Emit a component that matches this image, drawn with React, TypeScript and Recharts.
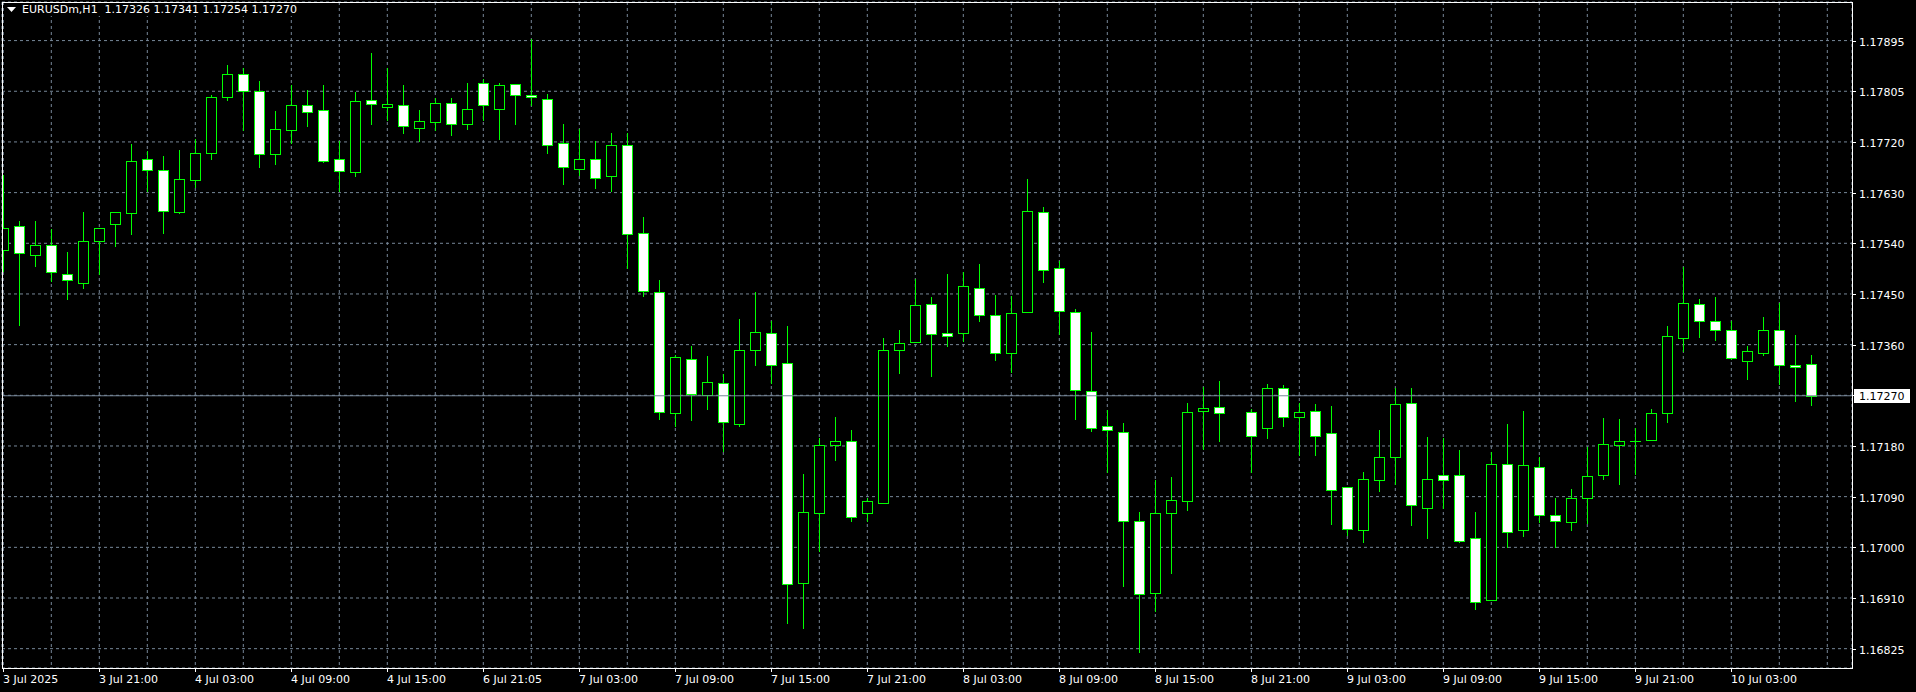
import { ComposedChart, Bar, XAxis, YAxis, CartesianGrid, ReferenceLine } from "recharts";

// EURUSDm H1, 3 Jul 15:00 .. 10 Jul 08:00
const opens = [
  1.17527, 1.17568, 1.17517, 1.17536, 1.17485, 1.17469, 1.17542, 1.17572, 1.17591, 1.17686,
  1.17668, 1.17593, 1.17649, 1.17697, 1.17796, 1.17836, 1.17806, 1.17695, 1.17737, 1.17781,
  1.17772, 1.17687, 1.17663, 1.1779, 1.17779, 1.17781, 1.17741, 1.17751, 1.17786, 1.17749,
  1.1782, 1.17774, 1.17818, 1.178, 1.17793, 1.17714, 1.17669, 1.17687, 1.17656, 1.17711,
  1.17557, 1.17452, 1.1724, 1.17334, 1.17271, 1.17293, 1.17221, 1.17351, 1.17381, 1.17327,
  1.1694, 1.17063, 1.17184, 1.17191, 1.17064, 1.17082, 1.1735, 1.17364, 1.17431, 1.17381,
  1.17381, 1.1746, 1.17412, 1.17346, 1.17417, 1.17593, 1.17494, 1.17418, 1.17278, 1.17216,
  1.17207, 1.17049, 1.16923, 1.17064, 1.17084, 1.17244, 1.17251, 1.1727, 1.17241, 1.17214,
  1.17284, 1.17232, 1.17244, 1.17204, 1.17109, 1.17033, 1.17121, 1.17163, 1.17258, 1.17073,
  1.1713, 1.1713, 1.1702, 1.16911, 1.1715, 1.17033, 1.17144, 1.17061, 1.17048, 1.1709,
  1.1713, 1.17184, 1.17191, 1.17193, 1.1724, 1.17372, 1.17431, 1.17402, 1.17385, 1.17332,
  1.17345, 1.17385, 1.17325, 1.17326,
];
const highs = [
  1.17658, 1.17578, 1.17578, 1.17563, 1.17523, 1.17593, 1.17566, 1.17594, 1.17713, 1.17701,
  1.17692, 1.17703, 1.17721, 1.17799, 1.17852, 1.17846, 1.17824, 1.17771, 1.17817, 1.17808,
  1.17817, 1.17719, 1.17804, 1.17873, 1.17846, 1.17817, 1.17773, 1.17794, 1.17794, 1.17821,
  1.17827, 1.1782, 1.17818, 1.17897, 1.17801, 1.17749, 1.1774, 1.17719, 1.17733, 1.17732,
  1.17584, 1.17473, 1.17342, 1.17357, 1.1734, 1.17308, 1.17405, 1.17453, 1.17402, 1.17393,
  1.17133, 1.17195, 1.17233, 1.1721, 1.1709, 1.17372, 1.17386, 1.17476, 1.17444, 1.17484,
  1.17487, 1.17502, 1.17448, 1.17445, 1.17651, 1.17602, 1.17508, 1.17423, 1.17382, 1.17245,
  1.17222, 1.17066, 1.17122, 1.17127, 1.17258, 1.17286, 1.17296, 1.1727, 1.17246, 1.1729,
  1.17289, 1.17258, 1.17255, 1.17252, 1.17109, 1.17136, 1.1721, 1.17284, 1.17284, 1.17197,
  1.17196, 1.17175, 1.17066, 1.17171, 1.17221, 1.17243, 1.17162, 1.1709, 1.17106, 1.17179,
  1.17231, 1.17229, 1.17214, 1.17247, 1.17393, 1.17496, 1.1744, 1.17444, 1.17401, 1.17357,
  1.17409, 1.17433, 1.17377, 1.17341,
];
const lows = [
  1.17489, 1.17395, 1.17499, 1.17472, 1.1744, 1.17459, 1.17484, 1.17534, 1.17555, 1.1763,
  1.17557, 1.17591, 1.17638, 1.17687, 1.17791, 1.17737, 1.17673, 1.17677, 1.17715, 1.17744,
  1.17681, 1.17631, 1.17657, 1.17749, 1.17756, 1.17733, 1.17719, 1.17737, 1.17728, 1.17739,
  1.17756, 1.17721, 1.17749, 1.17781, 1.17698, 1.17643, 1.17659, 1.17636, 1.1763, 1.17494,
  1.17446, 1.1723, 1.17217, 1.17228, 1.17247, 1.17173, 1.17216, 1.17325, 1.17293, 1.16871,
  1.16861, 1.16996, 1.17157, 1.1705, 1.1705, 1.17082, 1.1731, 1.17364, 1.17305, 1.17357,
  1.17367, 1.17402, 1.17333, 1.17312, 1.17417, 1.17471, 1.17378, 1.1723, 1.17208, 1.17136,
  1.16936, 1.1682, 1.16891, 1.16959, 1.17069, 1.17177, 1.1719, 1.1727, 1.17136, 1.17195,
  1.17216, 1.17166, 1.17165, 1.17045, 1.17025, 1.17012, 1.17103, 1.17114, 1.17042, 1.1702,
  1.17072, 1.17013, 1.16895, 1.16911, 1.17004, 1.17024, 1.17048, 1.17004, 1.17034, 1.17047,
  1.17123, 1.17114, 1.17133, 1.17193, 1.17224, 1.17348, 1.17374, 1.17369, 1.17334, 1.173,
  1.17341, 1.1729, 1.17261, 1.17254,
];
const closes = [
  1.17566, 1.17521, 1.17536, 1.17487, 1.17473, 1.17542, 1.17566, 1.17593, 1.17684, 1.17667,
  1.17595, 1.17651, 1.17697, 1.17796, 1.17837, 1.17806, 1.17695, 1.17739, 1.17781, 1.1777,
  1.17684, 1.17665, 1.17788, 1.17783, 1.17784, 1.17744, 1.17753, 1.17786, 1.17749, 1.17775,
  1.17781, 1.17816, 1.17799, 1.17796, 1.17712, 1.17672, 1.17686, 1.17654, 1.17711, 1.17555,
  1.17454, 1.17242, 1.17338, 1.17274, 1.17295, 1.17223, 1.1735, 1.17383, 1.17325, 1.16938,
  1.17066, 1.17184, 1.17191, 1.17056, 1.17084, 1.1735, 1.17362, 1.17429, 1.17378, 1.17376,
  1.17463, 1.17413, 1.17345, 1.17415, 1.17595, 1.17492, 1.17419, 1.17281, 1.17214, 1.1721,
  1.17049, 1.16921, 1.17063, 1.17087, 1.17241, 1.17248, 1.1724, 1.1727, 1.172, 1.17283,
  1.17232, 1.17242, 1.172, 1.17105, 1.17035, 1.17124, 1.17163, 1.17256, 1.17077, 1.17123,
  1.17121, 1.17015, 1.16908, 1.1715, 1.17031, 1.17148, 1.1706, 1.17049, 1.17091, 1.17129,
  1.17186, 1.17191, 1.17191, 1.17239, 1.17376, 1.17433, 1.17402, 1.17385, 1.17336, 1.17348,
  1.17385, 1.17325, 1.17321, 1.1727,
];

// one label every 6 bars
const timeLabels = [
  "3 Jul 2025", "3 Jul 21:00", "4 Jul 03:00", "4 Jul 09:00", "4 Jul 15:00", "6 Jul 21:05",
  "7 Jul 03:00", "7 Jul 09:00", "7 Jul 15:00", "7 Jul 21:00", "8 Jul 03:00", "8 Jul 09:00",
  "8 Jul 15:00", "8 Jul 21:00", "9 Jul 03:00", "9 Jul 09:00", "9 Jul 15:00", "9 Jul 21:00",
  "10 Jul 03:00",
];
// price scale labels, bottom to top
const priceLabels = [
  "1.16825", "1.16910", "1.17000", "1.17090", "1.17180", "1.17270", "1.17360",
  "1.17450", "1.17540", "1.17630", "1.17720", "1.17805", "1.17895",
];
const symbol = "EURUSDm,H1";

const W = 1916;
const H = 692;
const AXIS_W = 64;
const AXIS_H = 24;
const PLOT_RIGHT = W - AXIS_W;
const PLOT_BOTTOM = H - AXIS_H;

const GREEN = "#00ff00";
const GRID = "#778899";
const FONT = "'DejaVu Sans', sans-serif";

const rows = opens.map((o, i) => ({
  i,
  open: o,
  high: highs[i],
  low: lows[i],
  close: closes[i],
}));

const last = rows[rows.length - 1];
const lastPrice = last.close;

const pLo = Number(priceLabels[0]);
const pHi = Number(priceLabels[priceLabels.length - 1]);
const pStep = (pHi - pLo) / (priceLabels.length - 1);
// MT4 spaces the grid evenly, labels are rounded
const yTicks = priceLabels.map((_, i) => pLo + i * pStep);
const xTicks: number[] = [];
for (let k = 0; k <= rows.length; k += 3) xTicks.push(k);

function Candle(props: any) {
  const { x, y, width, height, payload } = props;
  if (x == null || !payload) return null;
  const { open, high, low, close } = payload;
  const cx = Math.floor(x + width / 2);
  const top = Math.min(y, y + height);
  const span = Math.abs(height);
  if (high === low || !span) {
    return <rect x={cx} y={Math.round(top) - 1} width={1} height={3} fill="#000" />;
  }
  const k = span / (high - low);
  const py = (p: number) => Math.round(top + (high - p) * k);
  const yH = py(high);
  const yL = py(low);
  const bT = py(Math.max(open, close));
  const bB = py(Math.min(open, close));
  const bull = close > open;
  return (
    <g>
      <rect x={cx} y={yH} width={1} height={yL - yH + 1} fill={GREEN} />
      {bB - bT < 1 ? (
        <rect x={cx - 5} y={bT} width={11} height={1} fill={GREEN} />
      ) : (
        <rect
          x={cx - 4.5}
          y={bT + 0.5}
          width={10}
          height={bB - bT}
          fill={bull ? "#000" : "#fff"}
          stroke={GREEN}
          strokeWidth={1}
        />
      )}
    </g>
  );
}

function TimeTick(props: any) {
  const { x, payload } = props;
  const v = payload.value;
  if (v % 6 !== 0) return null;
  const label = timeLabels[v / 6];
  if (!label) return null;
  const px = Math.floor(x) + 0.5;
  return (
    <g>
      <line x1={px} x2={px} y1={PLOT_BOTTOM} y2={PLOT_BOTTOM + 4} stroke="#fff" />
      <text x={px - 0.5} y={PLOT_BOTTOM + 15} fill="#fff" fontSize={11} fontFamily={FONT}>
        {label}
      </text>
    </g>
  );
}

function PriceTick(props: any) {
  const { y, payload } = props;
  const idx = Math.round((payload.value - pLo) / pStep);
  const label = priceLabels[idx];
  const py = Math.round(y) + 0.5;
  return (
    <g>
      <line x1={PLOT_RIGHT} x2={PLOT_RIGHT + 4} y1={py} y2={py} stroke="#fff" />
      {label !== lastPrice.toFixed(5) && (
        <text x={PLOT_RIGHT + 7} y={py + 4} fill="#fff" fontSize={11} fontFamily={FONT}>
          {label}
        </text>
      )}
    </g>
  );
}

function PriceTag(props: any) {
  const vb = props.viewBox || {};
  const ly = Math.round(vb.y);
  return (
    <g>
      <rect x={PLOT_RIGHT + 2} y={ly - 7} width={56} height={14} fill="#fff" />
      <text x={PLOT_RIGHT + 7} y={ly + 4} fill="#000" fontSize={11} fontFamily={FONT}>
        {lastPrice.toFixed(5)}
      </text>
    </g>
  );
}

export default function App() {
  const ohlc = [last.open, last.high, last.low, last.close].map((v) => v.toFixed(5)).join(" ");
  return (
    <div style={{ position: "relative", width: W, height: H, background: "#000" }}>
      <style>{`body{margin:0;background:#000}`}</style>
      <ComposedChart
        width={W}
        height={H}
        data={rows}
        margin={{ top: 2, left: 2, right: 0, bottom: 0 }}
      >
        <CartesianGrid stroke={GRID} strokeDasharray="3 3" fill="none" />
        <XAxis
          type="number"
          dataKey="i"
          domain={[-0.08125, 115.54375]}
          allowDataOverflow
          ticks={xTicks}
          interval={0}
          height={AXIS_H}
          axisLine={false}
          tickLine={false}
          tick={<TimeTick />}
        />
        <YAxis
          orientation="right"
          domain={[1.16791, 1.179629]}
          allowDataOverflow
          ticks={yTicks}
          interval={0}
          width={AXIS_W}
          axisLine={false}
          tickLine={false}
          tick={<PriceTick />}
        />
        <ReferenceLine y={lastPrice} stroke={GRID} strokeWidth={1} label={<PriceTag />} />
        <Bar
          dataKey={(d: any) => [d.low, d.high]}
          barSize={10}
          shape={<Candle />}
          isAnimationActive={false}
        />
      </ComposedChart>
      {/* chart frame */}
      <div
        style={{
          position: "absolute",
          left: 2,
          top: 2,
          width: PLOT_RIGHT - 1,
          height: PLOT_BOTTOM - 1,
          border: "1px solid #fff",
          boxSizing: "border-box",
          pointerEvents: "none",
        }}
      />
      <div
        style={{
          position: "absolute",
          left: 7,
          top: 3,
          color: "#fff",
          font: `11px ${FONT}`,
          whiteSpace: "pre",
          display: "flex",
          alignItems: "center",
          background: "#000",
        }}
      >
        <svg width={9} height={5} style={{ marginRight: 6 }}>
          <polygon points="0,0 9,0 4.5,5" fill="#fff" />
        </svg>
        {symbol + "  " + ohlc}
      </div>
    </div>
  );
}
